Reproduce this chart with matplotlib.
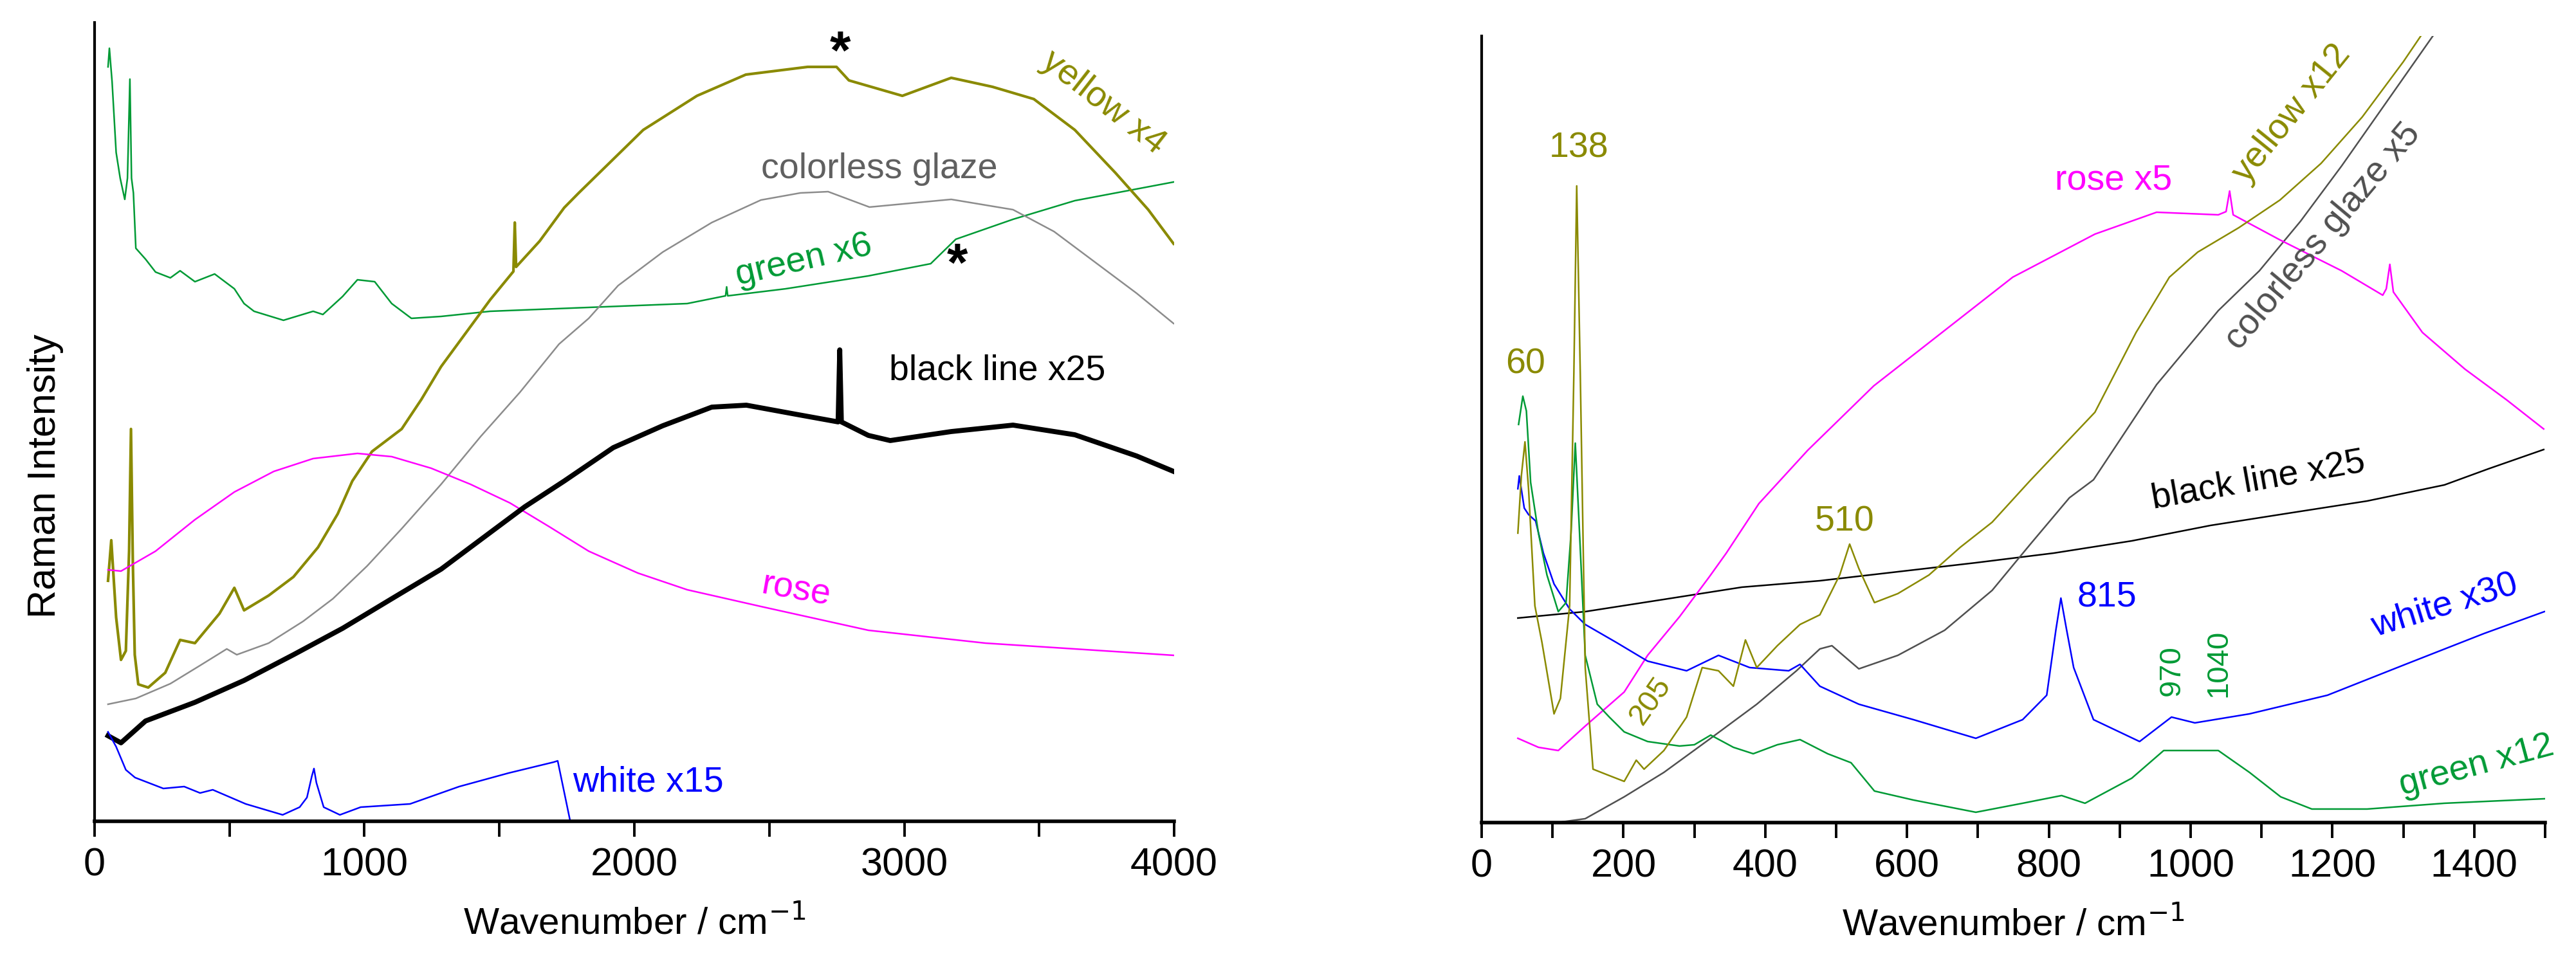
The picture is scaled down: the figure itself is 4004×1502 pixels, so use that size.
import matplotlib
matplotlib.use("Agg")
import matplotlib.pyplot as plt
from matplotlib.ticker import MultipleLocator

plt.rcParams['font.family'] = ['Liberation Sans', 'DejaVu Sans']

# ------------------------------------------------------------
# colours
# ------------------------------------------------------------
c_olive = "#8a8a00"
c_green = "#009a35"
c_rose = "#ff00ff"
c_blue = "#0000ff"
c_gray = "#8c8c8c"
c_dgray = "#505050"

# ------------------------------------------------------------
# left panel: full range spectra (a.u.)
# ------------------------------------------------------------
green_l_x = [50, 55, 65, 80, 95, 112, 122, 131, 137, 144, 153, 189, 226, 281, 317, 372, 445, 518,
             554, 591, 700, 810, 846, 919, 974, 1038, 1101, 1174, 1284, 1466, 1831, 2196, 2338,
             2342, 2346, 2561, 2867, 3098, 3191, 3403, 3632, 3998]
green_l_y = [1173, 1202, 1150, 1040, 1000, 967, 1000, 1154, 1000, 977, 891, 874, 854, 845, 856, 839,
             851, 828, 805, 793, 779, 793, 788, 816, 842, 839, 805, 782, 785, 793, 799, 805, 817,
             831, 817, 828, 848, 867, 905, 936, 965, 994]

yellow_l_x = [50, 62, 80, 98, 116, 128, 135, 142, 149, 162, 199, 262, 317, 372, 463, 518, 554, 645,
              737, 828, 901, 955, 1028, 1138, 1211, 1284, 1375, 1466, 1552, 1557, 1562, 1649, 1740,
              1794, 2033, 2232, 2413, 2642, 2749, 2795, 2993, 3174, 3327, 3480, 3632, 3783, 3904,
              3998]
yellow_l_y = [374, 437, 317, 251, 265, 420, 610, 400, 259, 213, 208, 231, 282, 277, 323, 363, 328,
              351, 380, 426, 478, 529, 575, 610, 656, 707, 759, 811, 855, 931, 862, 902, 954, 977,
              1075, 1128, 1161, 1173, 1173, 1152, 1128, 1156, 1142, 1123, 1075, 1008, 951, 898]

gray_l_x = [50, 153, 281, 390, 490, 527, 645, 773, 883, 1010, 1138, 1284, 1430, 1576, 1721, 1831,
            1940, 2105, 2287, 2469, 2615, 2718, 2871, 3174, 3403, 3555, 3708, 3861, 3998]
gray_l_y = [182, 191, 214, 242, 268, 259, 277, 311, 346, 397, 455, 524, 598, 667, 742, 782, 833,
            885, 931, 966, 977, 979, 955, 967, 951, 917, 869, 821, 774]

black_l_x = [50, 98, 189, 372, 554, 737, 919, 1101, 1284, 1466, 1594, 1740, 1922, 2105, 2287, 2415,
             2597, 2755, 2761, 2767, 2867, 2948, 3174, 3403, 3632, 3861, 3998]
black_l_y = [133, 122, 156, 185, 219, 259, 300, 346, 392, 449, 489, 529, 581, 615, 644, 647, 633,
             621, 733, 621, 600, 592, 606, 616, 601, 568, 544]

rose_l_x = [50, 98, 226, 372, 518, 664, 810, 974, 1101, 1247, 1393, 1539, 1685, 1831, 2013, 2196,
            2469, 2867, 3301, 4000]
rose_l_y = [391, 389, 420, 469, 512, 544, 564, 572, 567, 549, 524, 495, 458, 420, 386, 360, 334,
            297, 277, 258]

white_l_x = [50, 80, 116, 150, 255, 332, 391, 438, 560, 697, 760, 787, 805, 813, 822, 849, 909,
             986, 1169, 1351, 1534, 1701, 1716, 1761, 1780]
white_l_y = [139, 116, 80, 68, 51, 54, 44, 49, 27, 10, 22, 37, 70, 82, 60, 22, 10, 22, 27, 54, 75,
             92, 94, 3, -30]

# ------------------------------------------------------------
# right panel: low wavenumber region (a.u.)
# ------------------------------------------------------------
white_r_x = [51, 53, 60, 66, 76, 87, 102, 124, 146, 190, 234, 289, 334, 378, 433, 449, 477, 532,
             609, 697, 763, 797, 810, 817, 825, 835, 863, 928, 973, 1006, 1083, 1193, 1303, 1414,
             1499]
white_r_y = [519, 539, 489, 479, 469, 419, 371, 332, 308, 280, 251, 236, 260, 241, 236, 246, 212,
             184, 160, 131, 160, 198, 300, 349, 300, 241, 160, 126, 164, 155, 169, 198, 246, 294,
             328]

green_r_x = [52, 58, 63, 69, 80, 92, 108, 119, 126, 132, 138, 146, 163, 180, 201, 234, 279, 300,
             323, 355, 383, 417, 449, 488, 521, 554, 609, 697, 763, 818, 851, 917, 962, 995, 1039,
             1083, 1127, 1171, 1249, 1358, 1499]
green_r_y = [619, 663, 640, 529, 450, 385, 328, 342, 450, 590, 450, 260, 184, 164, 141, 126, 119,
             121, 136, 117, 107, 121, 129, 107, 93, 49, 35, 16, 30, 42, 30, 69, 112, 112, 112, 78,
             40, 21, 21, 30, 37]

yellow_r_x = [51, 56, 61, 66, 75, 85, 102, 111, 124, 130, 134, 139, 146, 157, 180, 201, 218, 229,
              257, 289, 311, 334, 355, 372, 388, 417, 449, 477, 505, 519, 532, 554, 587, 631, 675,
              720, 773, 865, 923, 970, 1010, 1068, 1126, 1184, 1242, 1300, 1324, 1360]
yellow_r_y = [450, 540, 592, 520, 337, 280, 169, 193, 337, 700, 990, 700, 241, 83, 73, 64, 97, 83,
              112, 164, 241, 236, 212, 284, 241, 275, 308, 323, 385, 433, 395, 342, 356, 385, 428,
              467, 531, 638, 762, 848, 887, 925, 968, 1025, 1097, 1183, 1222, 1280]

gray_r_x = [60, 113, 146, 201, 257, 323, 388, 444, 477, 494, 532, 587, 653, 720, 774, 829, 863, 952,
            1039, 1097, 1155, 1213, 1271, 1341, 1380]
gray_r_y = [-50, 1, 6, 40, 78, 131, 184, 236, 270, 275, 239, 260, 299, 361, 433, 505, 533, 681, 796,
            858, 935, 1021, 1112, 1222, 1280]

rose_r_x = [51, 80, 108, 146, 201, 234, 279, 321, 345, 391, 460, 553, 669, 749, 865, 952, 1039,
            1050, 1055, 1060, 1126, 1213, 1271, 1276, 1281, 1286, 1327, 1387, 1446, 1498]
rose_r_y = [131, 117, 112, 150, 203, 260, 320, 382, 419, 496, 579, 679, 779, 848, 915, 949, 945,
            950, 982, 945, 906, 858, 820, 830, 868, 825, 762, 705, 657, 612]

black_r_x = [51, 146, 257, 367, 477, 587, 697, 807, 917, 1028, 1138, 1249, 1358, 1420, 1498]
black_r_y = [318, 328, 347, 366, 376, 390, 404, 419, 438, 462, 481, 500, 525, 550, 580]

# ------------------------------------------------------------
# figure
# ------------------------------------------------------------
fig = plt.figure(figsize=(20.02, 7.51), dpi=200)
ax1 = fig.add_axes([0.0367, 0.1498, 0.4191, 0.8269])
ax2 = fig.add_axes([0.5752, 0.1485, 0.4128, 0.8142])

lw = 0.9
ax1.plot(green_l_x, green_l_y, color=c_green, lw=lw)
ax1.plot(gray_l_x, gray_l_y, color=c_gray, lw=lw)
ax1.plot(yellow_l_x, yellow_l_y, color=c_olive, lw=1.5)
ax1.plot(rose_l_x, rose_l_y, color=c_rose, lw=lw)
ax1.plot(black_l_x, black_l_y, color="black", lw=2.8)
ax1.plot(white_l_x, white_l_y, color=c_blue, lw=lw)

ax2.plot(black_r_x, black_r_y, color="black", lw=lw)
ax2.plot(gray_r_x, gray_r_y, color=c_dgray, lw=lw)
ax2.plot(rose_r_x, rose_r_y, color=c_rose, lw=lw)
ax2.plot(white_r_x, white_r_y, color=c_blue, lw=lw)
ax2.plot(green_r_x, green_r_y, color=c_green, lw=lw)
ax2.plot(yellow_r_x, yellow_r_y, color=c_olive, lw=lw)

ax1.set_xlim(0, 4000)
ax1.set_ylim(0, 1242)
ax2.set_xlim(0, 1500)
ax2.set_ylim(0, 1223)

for ax, major, minor in [(ax1, 1000, 500), (ax2, 200, 100)]:
    for s in ["top", "right"]:
        ax.spines[s].set_visible(False)
    ax.spines["left"].set_linewidth(1.5)
    ax.spines["bottom"].set_linewidth(2.0)
    ax.xaxis.set_major_locator(MultipleLocator(major))
    ax.xaxis.set_minor_locator(MultipleLocator(minor))
    ax.tick_params(axis="x", which="both", direction="out", length=8.5, width=1.4,
                   labelsize=22, pad=6)
    ax.set_yticks([])
    ax.set_xlabel("Wavenumber / cm$^{-1}$", fontsize=21, labelpad=12)

fig.text(0.0175, 1 - 740 / 1502, "Raman Intensity", rotation=90, ha="center", va="center",
         fontsize=22)

# labels, left panel
fs = 20
ax1.text(3738, 1117, "yellow x4", color=c_olive, fontsize=fs, rotation=-38, ha="center", va="center")
ax1.text(2908, 1014, "colorless glaze", color="#606060", fontsize=fs, ha="center", va="center")
ax1.text(2629, 872, "green x6", color=c_green, fontsize=fs, rotation=13, ha="center", va="center")
ax1.text(2763, 1192, "*", color="black", fontsize=30, fontweight="bold", ha="center", va="center")
ax1.text(3197, 862, "*", color="black", fontsize=30, fontweight="bold", ha="center", va="center")
ax1.text(3344, 700, "black line x25", color="black", fontsize=fs, ha="center", va="center")
ax1.text(2598, 359, "rose", color=c_rose, fontsize=fs, rotation=-10, ha="center", va="center")
ax1.text(2052, 61, "white x15", color=c_blue, fontsize=fs, ha="center", va="center")

# labels, right panel
ax2.text(62, 712, "60", color=c_olive, fontsize=fs, ha="center", va="center")
ax2.text(137, 1049, "138", color=c_olive, fontsize=fs, ha="center", va="center")
ax2.text(891, 999, "rose x5", color=c_rose, fontsize=fs, ha="center", va="center")
ax2.text(1143, 1102, "yellow x12", color=c_olive, fontsize=fs, rotation=51, ha="center", va="center")
ax2.text(1187, 911, "colorless glaze x5", color=c_dgray, fontsize=fs, rotation=50,
         ha="center", va="center")
ax2.text(1095, 531, "black line x25", color="black", fontsize=fs, rotation=10, ha="center", va="center")
ax2.text(512, 467, "510", color=c_olive, fontsize=fs, ha="center", va="center")
ax2.text(882, 349, "815", color=c_blue, fontsize=fs, ha="center", va="center")
ax2.text(1358, 337, "white x30", color=c_blue, fontsize=fs, rotation=17, ha="center", va="center")
ax2.text(973, 236, "970", color=c_green, fontsize=17, rotation=90, ha="center", va="center")
ax2.text(1039, 248, "1040", color=c_green, fontsize=17, rotation=90, ha="center", va="center")
ax2.text(238, 189, "205", color=c_olive, fontsize=17, rotation=55, ha="center", va="center")
ax2.text(1403, 88, "green x12", color=c_green, fontsize=fs, rotation=15, ha="center", va="center")

fig.savefig("out.png", dpi=200)
